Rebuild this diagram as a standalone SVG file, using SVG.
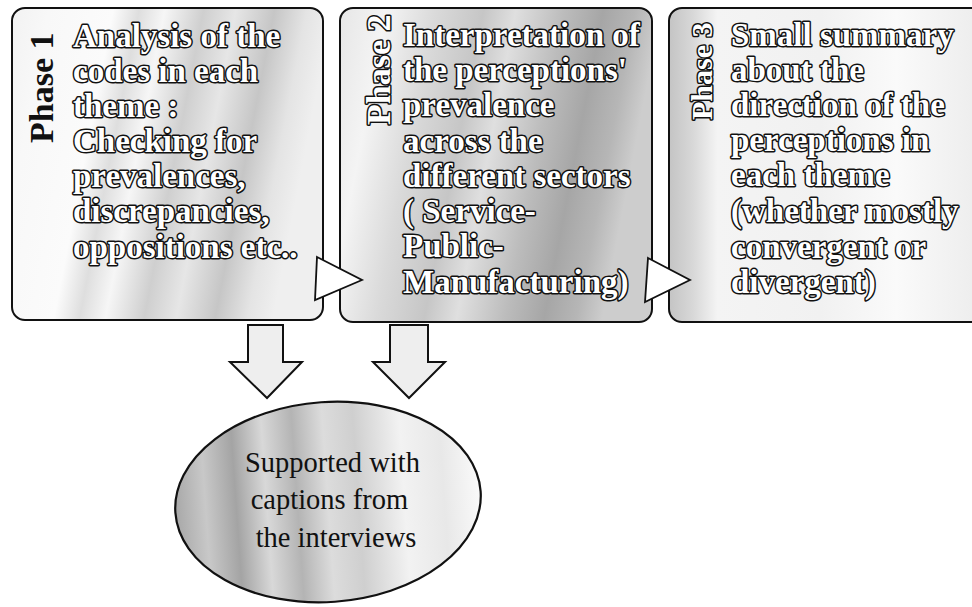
<svg xmlns="http://www.w3.org/2000/svg" width="972" height="607" viewBox="0 0 972 607">
<style>
.box{stroke:#111;stroke-width:2}
.body{font-family:"Liberation Serif","Times New Roman",serif;font-weight:bold;font-size:33px;fill:#fff;stroke:#111;stroke-width:3;paint-order:stroke fill;stroke-linejoin:round}
.phase{font-family:"Liberation Serif","Times New Roman",serif;font-weight:bold;font-size:34px}
.cap{font-family:"Liberation Serif","Times New Roman",serif;font-size:28.5px;fill:#111;text-anchor:middle}
.conn{fill:#fff;stroke:#111;stroke-width:1.8;stroke-linejoin:miter}
.down{fill:#eeeeee;stroke:#111;stroke-width:2}
</style>
<defs>
<linearGradient id="g1" gradientUnits="userSpaceOnUse" x1="12" y1="0" x2="323" y2="60">
<stop offset="0" stop-color="#f2f2f2"/><stop offset="0.12" stop-color="#f8f8f8"/>
<stop offset="0.32" stop-color="#fbfbfb"/><stop offset="0.4" stop-color="#dedede"/>
<stop offset="0.48" stop-color="#f6f6f6"/><stop offset="0.6" stop-color="#cfcfcf"/>
<stop offset="0.7" stop-color="#e6e6e6"/><stop offset="0.82" stop-color="#c6c6c6"/>
<stop offset="0.92" stop-color="#e4e4e4"/><stop offset="1" stop-color="#efefef"/>
</linearGradient>
<linearGradient id="g2" gradientUnits="userSpaceOnUse" x1="340" y1="0" x2="652" y2="60">
<stop offset="0" stop-color="#e6e6e6"/><stop offset="0.15" stop-color="#f4f4f4"/>
<stop offset="0.3" stop-color="#dadada"/><stop offset="0.45" stop-color="#c6c6c6"/>
<stop offset="0.55" stop-color="#dfdfdf"/><stop offset="0.7" stop-color="#bcbcbc"/>
<stop offset="0.82" stop-color="#a6a6a6"/><stop offset="0.92" stop-color="#b6b6b6"/>
<stop offset="1" stop-color="#cdcdcd"/>
</linearGradient>
<linearGradient id="g3" gradientUnits="userSpaceOnUse" x1="669" y1="0" x2="972" y2="0">
<stop offset="0" stop-color="#c4c4c4"/><stop offset="0.08" stop-color="#d8d8d8"/>
<stop offset="0.16" stop-color="#f4f4f4"/><stop offset="0.5" stop-color="#f1f1f1"/>
<stop offset="0.75" stop-color="#fafafa"/><stop offset="1" stop-color="#eeeeee"/>
</linearGradient>
<linearGradient id="ge" gradientUnits="userSpaceOnUse" x1="175" y1="0" x2="481" y2="0">
<stop offset="0" stop-color="#a8a8a8"/><stop offset="0.1" stop-color="#c8c8c8"/>
<stop offset="0.2" stop-color="#a4a4a4"/><stop offset="0.3" stop-color="#d8d8d8"/>
<stop offset="0.4" stop-color="#b4b4b4"/><stop offset="0.5" stop-color="#dcdcdc"/>
<stop offset="0.6" stop-color="#cfcfcf"/><stop offset="0.75" stop-color="#f2f2f2"/>
<stop offset="0.88" stop-color="#e8e8e8"/><stop offset="1" stop-color="#fafafa"/>
</linearGradient>
</defs>

<g id="phase1">
<rect class="box" x="12" y="8" width="311" height="312" rx="13" fill="url(#g1)"/>
<text class="phase" fill="#111" transform="translate(53,143) rotate(-90)">Phase 1</text>
<text class="body">
<tspan x="73" y="47">Analysis of the</tspan>
<tspan x="73" y="82">codes in each</tspan>
<tspan x="73" y="117">theme :</tspan>
<tspan x="73" y="152">Checking for</tspan>
<tspan x="73" y="187">prevalences,</tspan>
<tspan x="73" y="222">discrepancies,</tspan>
<tspan x="73" y="258">oppositions etc..</tspan>
</text>
</g>

<g id="phase2">
<rect class="box" x="340" y="8" width="312" height="314" rx="13" fill="url(#g2)"/>
<text class="phase body" style="font-size:34px" transform="translate(390,125) rotate(-90)">Phase 2</text>
<text class="body">
<tspan x="403" y="46">Interpretation of</tspan>
<tspan x="403" y="81">the perceptions'</tspan>
<tspan x="403" y="116">prevalence</tspan>
<tspan x="403" y="152">across the</tspan>
<tspan x="403" y="187">different sectors</tspan>
<tspan x="403" y="222">( Service-</tspan>
<tspan x="403" y="257">Public-</tspan>
<tspan x="403" y="293">Manufacturing)</tspan>
</text>
</g>

<g id="phase3">
<rect class="box" x="669" y="8" width="320" height="314" rx="13" fill="url(#g3)"/>
<text class="body" style="font-size:30px" transform="translate(712,120) rotate(-90)">Phase 3</text>
<text class="body">
<tspan x="731" y="46">Small summary</tspan>
<tspan x="731" y="81">about the</tspan>
<tspan x="731" y="116">direction of the</tspan>
<tspan x="731" y="151">perceptions in</tspan>
<tspan x="731" y="186">each theme</tspan>
<tspan x="731" y="222">(whether mostly</tspan>
<tspan x="731" y="258">convergent or</tspan>
<tspan x="731" y="293">divergent)</tspan>
</text>
</g>

<g id="captions">
<ellipse cx="328" cy="502" rx="153" ry="100" fill="url(#ge)" stroke="#111" stroke-width="2.2" transform="rotate(-4 328 502)"/>
<text class="cap">
<tspan x="336" y="472">Supported with</tspan>
<tspan x="333" y="509">captions from</tspan>
<tspan x="336" y="547">the interviews</tspan>
</text>
</g>

<g id="connectors">
<polygon class="conn" points="317,257 362,280 315,300"/>
<polygon class="conn" points="648,258 690,280 645,302"/>
<polygon class="down" points="248,325 283,325 283,362 302,362 267,398 230,362 248,362"/>
<polygon class="down" points="390,325 428,325 428,362 445,362 409,398 373,362 390,362"/>
</g>
</svg>
